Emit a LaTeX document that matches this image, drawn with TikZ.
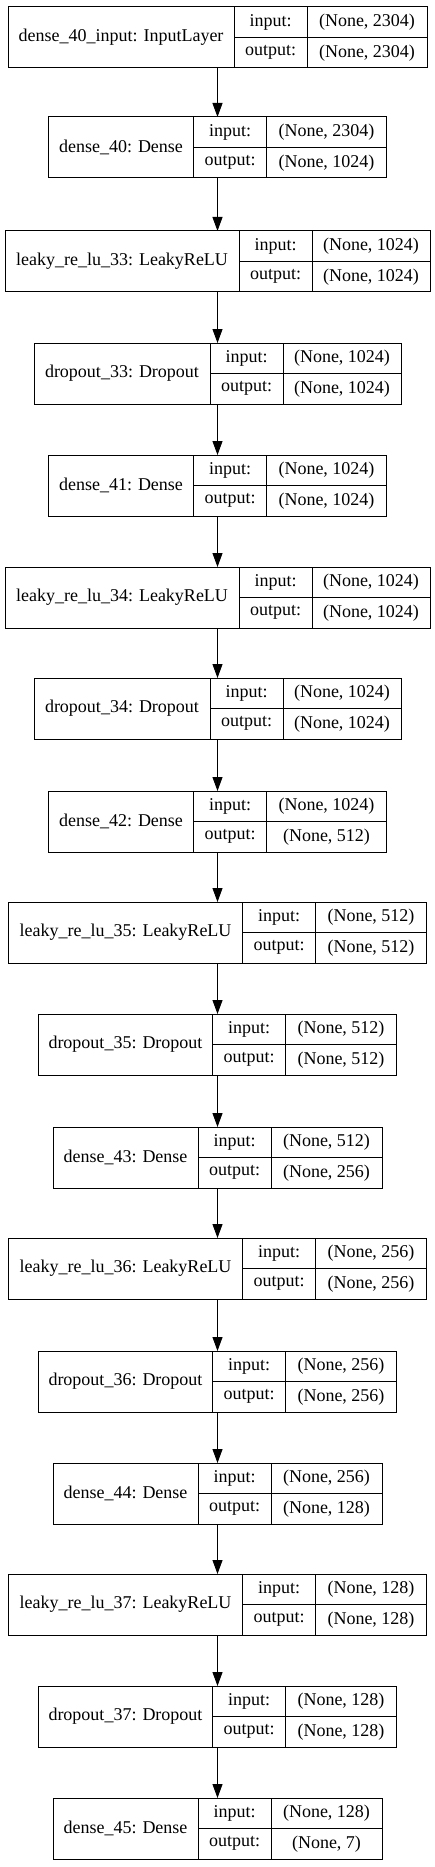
\documentclass[tikz,border=0pt]{standalone}
\usepackage{fontspec}
\setmainfont{Liberation Serif}
\usetikzlibrary{arrows.meta, positioning}

\tikzset{
  cell/.style={draw, line width=1pt, inner sep=0pt, outer sep=0pt, font=\fontsize{18}{20}\selectfont},
  record/.style={inner sep=0pt, outer sep=0pt, minimum height=61pt},
  namecell/.style={cell, minimum height=61pt},
  iocell/.style={cell, minimum width=73pt, minimum height=30.5pt},
  flow/.style={-{Triangle[length=14pt, width=10pt]}, line width=1pt}
}

\begin{document}
\begin{tikzpicture}[x=1pt, y=-1pt]
\useasboundingbox (0,0) rectangle (435,1867);

% one record per layer: name | input:/output: | shapes
\foreach \id/\lbl/\lw/\sw/\ishape/\oshape/\ytop in {
  1/{dense\_40\_input: InputLayer}/226/120/{(None, 2304)}/{(None, 2304)}/7,
  2/{dense\_40: Dense}/145/120/{(None, 2304)}/{(None, 1024)}/117,
  3/{leaky\_re\_lu\_33: LeakyReLU}/234/118/{(None, 1024)}/{(None, 1024)}/231,
  4/{dropout\_33: Dropout}/176/118/{(None, 1024)}/{(None, 1024)}/343,
  5/{dense\_41: Dense}/145/120/{(None, 1024)}/{(None, 1024)}/455,
  6/{leaky\_re\_lu\_34: LeakyReLU}/234/118/{(None, 1024)}/{(None, 1024)}/567,
  7/{dropout\_34: Dropout}/176/118/{(None, 1024)}/{(None, 1024)}/678,
  8/{dense\_42: Dense}/145/120/{(None, 1024)}/{(None, 512)}/791,
  9/{leaky\_re\_lu\_35: LeakyReLU}/234/111/{(None, 512)}/{(None, 512)}/902,
  10/{dropout\_35: Dropout}/174/111/{(None, 512)}/{(None, 512)}/1014,
  11/{dense\_43: Dense}/145/111/{(None, 512)}/{(None, 256)}/1127,
  12/{leaky\_re\_lu\_36: LeakyReLU}/234/111/{(None, 256)}/{(None, 256)}/1238,
  13/{dropout\_36: Dropout}/174/111/{(None, 256)}/{(None, 256)}/1351,
  14/{dense\_44: Dense}/145/111/{(None, 256)}/{(None, 128)}/1463,
  15/{leaky\_re\_lu\_37: LeakyReLU}/234/111/{(None, 128)}/{(None, 128)}/1574,
  16/{dropout\_37: Dropout}/174/111/{(None, 128)}/{(None, 128)}/1686,
  17/{dense\_45: Dense}/145/111/{(None, 128)}/{(None, 7)}/1798}
{
  \node[record, minimum width={\lw+73+\sw}] (l\id) at (217.5,\ytop+30.5) {};
  \node[namecell, minimum width=\lw, anchor=west] (l\id-name) at (l\id.west) {\lbl};
  \node[iocell, anchor=north west] (l\id-inkey) at (l\id-name.north east) {input:};
  \node[iocell, anchor=north west] (l\id-outkey) at (l\id-inkey.south west) {output:};
  \node[iocell, minimum width=\sw, anchor=north west] (l\id-inval) at (l\id-inkey.north east) {\ishape};
  \node[iocell, minimum width=\sw, anchor=north west] (l\id-outval) at (l\id-outkey.north east) {\oshape};
}

% connectors
\foreach \i in {1,...,16} {
  \pgfmathtruncatemacro\j{\i+1}
  \draw[flow] (l\i.south) -- (l\j.north);
}
\end{tikzpicture}
\end{document}
